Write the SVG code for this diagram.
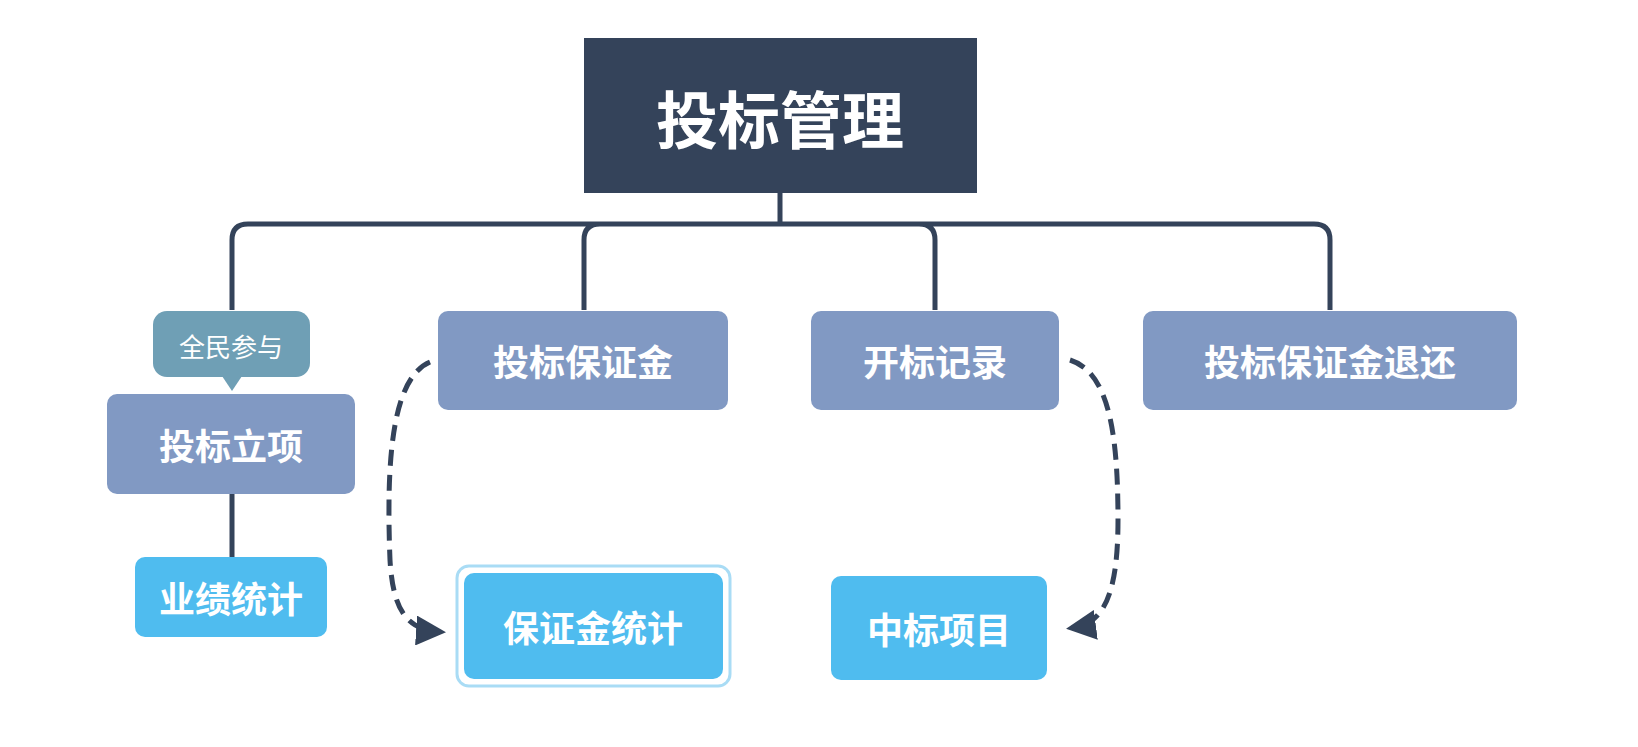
<svg xmlns="http://www.w3.org/2000/svg" width="1638" height="747" viewBox="0 0 1638 747">
<defs>
<style>
text{font-family:"Noto Sans CJK SC","Liberation Sans",sans-serif;fill:#fff;font-weight:bold;text-anchor:middle;dominant-baseline:central;font-size:36px}
.l2{fill:#8199c3}
.l3{fill:#4fbcef}
.c{fill:none;stroke:#34435a;stroke-width:5}
.d{fill:none;stroke:#34435a;stroke-width:5;stroke-dasharray:16 9}
</style>
<marker id="ah" viewBox="0 0 10 10" refX="8" refY="5" markerWidth="6" markerHeight="6" orient="auto" markerUnits="strokeWidth"><path d="M0,0L10,5L0,10z" fill="#34435a"/></marker>
</defs>
<rect width="1638" height="747" fill="#fff"/>
<g id="connectors">
<path class="c" d="M780,193V224M232,310V240Q232,224 248,224H1314Q1330,224 1330,240V310M584,310V240Q584,224 600,224M919,224Q935,224 935,240V310M232,494V557"/>
<path class="d" d="M430,362C392,378 386,460 390,560C393,612 408,630 440,632" marker-end="url(#ah)"/>
<path class="d" d="M1070,360C1108,372 1118,430 1118,520C1118,598 1102,624 1072,628" marker-end="url(#ah)"/>
</g>
<g id="root"><rect x="584" y="38" width="393" height="155" fill="#34435a"/><text x="780" y="117" style="font-size:62px">投标管理</text></g>
<g id="tag"><rect x="153" y="311" width="157" height="66" rx="14" fill="#6f9fb5"/><path d="M222,376L232,391L242,376z" fill="#6f9fb5"/><text x="231" y="345" style="font-size:26px;font-weight:normal">全民参与</text></g>
<g id="n1"><rect class="l2" x="107" y="394" width="248" height="100" rx="10"/><text x="231" y="444">投标立项</text></g>
<g id="n2"><rect class="l2" x="438" y="311" width="290" height="99" rx="10"/><text x="583" y="360">投标保证金</text></g>
<g id="n3"><rect class="l2" x="811" y="311" width="248" height="99" rx="10"/><text x="935" y="360">开标记录</text></g>
<g id="n4"><rect class="l2" x="1143" y="311" width="374" height="99" rx="10"/><text x="1330" y="360">投标保证金退还</text></g>
<g id="n5"><rect class="l3" x="135" y="557" width="192" height="80" rx="10"/><text x="231" y="597">业绩统计</text></g>
<g id="n6"><rect x="457" y="566" width="273" height="120" rx="12" fill="none" stroke="#a9dcf5" stroke-width="3"/><rect class="l3" x="464" y="573" width="259" height="106" rx="10"/><text x="593" y="626">保证金统计</text></g>
<g id="n7"><rect class="l3" x="831" y="576" width="216" height="104" rx="10"/><text x="939" y="628">中标项目</text></g>
</svg>
